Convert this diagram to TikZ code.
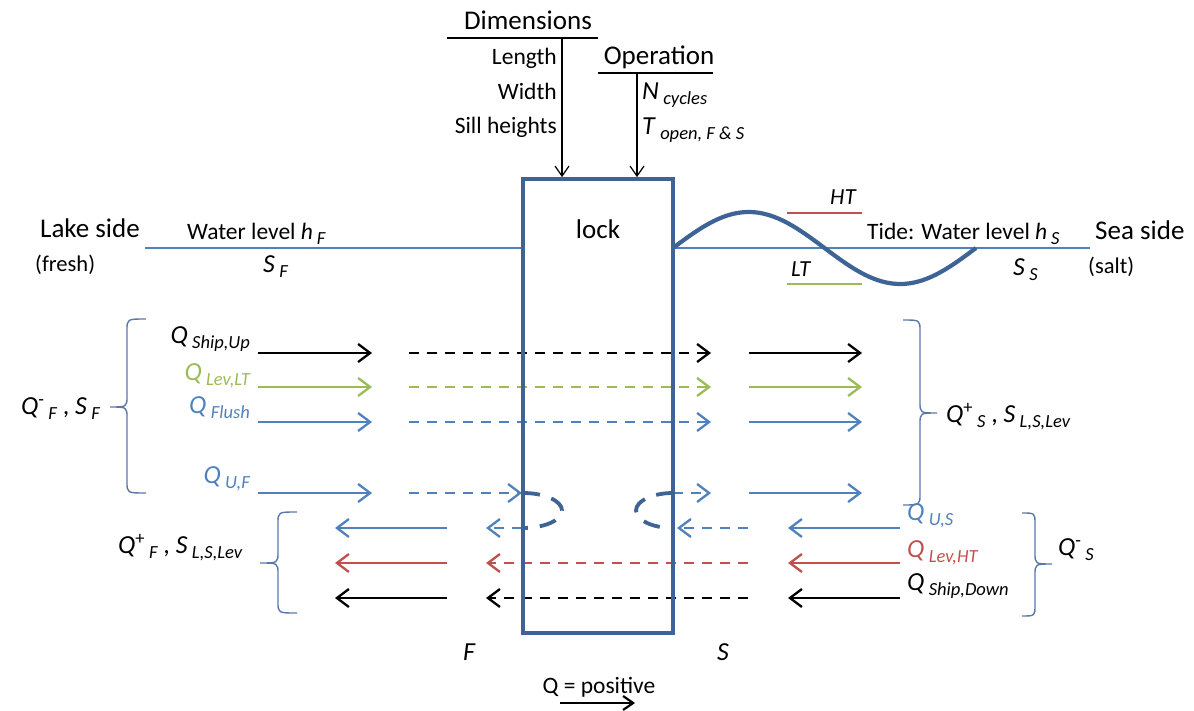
\documentclass[tikz,border=0pt]{standalone}
\usepackage{fontspec}
\setmainfont{Carlito}
\usetikzlibrary{arrows.meta}
\definecolor{cblue}{RGB}{79,129,189}
\definecolor{cgreen}{RGB}{155,187,89}
\definecolor{cred}{RGB}{192,80,77}
\definecolor{clock}{RGB}{62,100,150}
\definecolor{cbrace}{RGB}{90,120,170}
\newcommand{\fs}[1]{\fontsize{#1}{#1}\selectfont}
\newcommand{\qsub}[1]{{\fs{18.5}\raisebox{-5pt}{\itshape #1}}}
\newcommand{\qsup}[1]{{\fs{18.5}\raisebox{9pt}{#1}}}
\newcommand{\brc}[6]{\draw[bracestyle] (#2,#4) .. controls (#1,#4) .. (#1,{#4+11}) -- (#1,{#5-11}) .. controls (#1,#5) .. (#3,#5) .. controls (#1,#5) .. (#1,{#5+11}) -- (#1,{#6-11}) .. controls (#1,#6) .. (#2,#6);}
\begin{document}
\begin{tikzpicture}[x=1pt,y=-1pt,
  big/.style={font=\fs{27},inner sep=0pt},
  med/.style={font=\fs{23.5},inner sep=0pt},
  lab/.style={font=\fs{26},inner sep=0pt},
  flow/.style={line width=2.5pt,-{Straight Barb[length=12pt,width=18pt,line width=2.3pt]}},
  dsh/.style={dash pattern=on 10pt off 8pt},
  thinarrow/.style={line width=1.2pt,-{Straight Barb[length=10pt,width=14pt,line width=1.2pt]}},
  bracestyle/.style={draw=cbrace,line width=1.4pt},
  loopstyle/.style={draw=clock,line width=3.8pt,dash pattern=on 17pt off 12pt},
  water/.style={draw=cblue,line width=1.6pt}
]
\useasboundingbox (0,0) rectangle (1194,711);

% ---------- top: dimensions / operation
\node[big,anchor=base] (dim) at (528,30) {Dimensions};
\coordinate (dimL) at (447,38);
\coordinate (dimR) at (598,38);
\coordinate (dimA) at (562,38);
\draw[line width=2.2pt] (dimL) -- (dimR);
\node[med,anchor=base east] (len) at (557,65) {Length};
\node[med,anchor=base east] (wid) at (557,100) {Width};
\node[med,anchor=base east] (sill) at (557,134) {Sill heights};
\node[big,anchor=base] (op) at (659,65) {Operation};
\coordinate (opL) at (598,73);
\coordinate (opR) at (713,73);
\coordinate (opA) at (637,73);
\draw[line width=2.2pt] (opL) -- (opR);
\node[lab,anchor=base west] (ncyc) at (642,100) {\textit{N}\,\qsub{cycles}};
\node[lab,anchor=base west] (topen) at (642,135) {\textit{T}\,\qsub{open, F \& S}};

% ---------- water lines
\coordinate (wl1) at (145,248);
\coordinate (wl2) at (523,248);
\coordinate (wr1) at (673,248);
\coordinate (wr2) at (1090,248);
\draw[water] (wl1) -- (wl2);
\draw[water] (wr1) -- (wr2);

% tide wave
\draw[draw=clock,line width=4.2pt] plot[domain=0:303,samples=90] ({673+\x},{248-36*sin(\x*1.18812)});
\coordinate (ht1) at (787,213); \coordinate (ht2) at (862,213);
\coordinate (lt1) at (787,284); \coordinate (lt2) at (862,284);
\draw[cred,line width=2.4pt] (ht1) -- (ht2);
\draw[cgreen,line width=2.4pt] (lt1) -- (lt2);
\node[lab,anchor=base west,font=\fs{23}] (HT) at (830,205) {\textit{HT}};
\node[lab,anchor=base west,font=\fs{23}] (LT) at (791,277) {\textit{LT}};

\node[big,anchor=base west] (lake) at (40,238) {Lake side};
\node[med,anchor=base west,font=\fs{22.5}] (fresh) at (35,272) {(fresh)};
\node[med,anchor=base west] (wlF) at (187,240) {Water level \textit{h}\,\qsub{F}};
\node[lab,anchor=base west] (SF) at (263,273) {\textit{S}\,\qsub{F}};
\node[med,anchor=base west] (tide) at (867,240) {Tide: Water level \textit{h}\,\qsub{S}};
\node[big,anchor=base west] (sea) at (1095,240) {Sea side};
\node[med,anchor=base west,font=\fs{22.5}] (salt) at (1088,274) {(salt)};
\node[lab,anchor=base west] (SS) at (1013,276) {\textit{S}\,\qsub{S}};

% ---------- flow coordinates
\foreach \r/\y in {1/353,2/387,3/422,4/493,5/528,6/563,7/598} {
  \foreach \c/\x in {A/258,B/372,C/409,D/711,E/749,F/862,G/335,H/447,I/486,J/522,K/677,L/748,M/788,N/900,P/673} {
    \coordinate (\c\r) at (\x,\y);
  }
}
% rightward flows
\draw[flow,black] (A1) -- (B1);
\draw[flow,black,dsh] (C1) -- (D1);
\draw[flow,black] (E1) -- (F1);
\draw[flow,cgreen] (A2) -- (B2);
\draw[flow,cgreen,dsh] (C2) -- (D2);
\draw[flow,cgreen] (E2) -- (F2);
\draw[flow,cblue] (A3) -- (B3);
\draw[flow,cblue,dsh] (C3) -- (D3);
\draw[flow,cblue] (E3) -- (F3);
\draw[flow,cblue] (A4) -- (B4);
\draw[flow,cblue,dsh] (C4) -- (J4);
\draw[flow,cblue,dsh] (P4) -- (D4);
\draw[flow,cblue] (E4) -- (F4);
% leftward flows
\draw[flow,cblue] (N5) -- (M5);
\draw[flow,cblue,dsh] (L5) -- (K5);
\draw[flow,cblue,dsh] (J5) -- (I5);
\draw[flow,cblue] (H5) -- (G5);
\draw[flow,cred] (N6) -- (M6);
\draw[flow,cred,dsh] (L6) -- (I6);
\draw[flow,cred] (H6) -- (G6);
\draw[flow,black] (N7) -- (M7);
\draw[flow,black,dsh] (L7) -- (I7);
\draw[flow,black] (H7) -- (G7);

% loops
\draw[loopstyle] (523,493) arc[start angle=-90,end angle=90,x radius=39,y radius=17.5];
\draw[loopstyle] (673,493) arc[start angle=-90,end angle=-270,x radius=37,y radius=17.5];

% lock
\node[draw=clock,line width=3.8pt,minimum width=150pt,minimum height=454pt,inner sep=0pt] (lock) at (598,406) {};
\node[big,anchor=base] (locklabel) at (598,239) {lock};
\draw[thinarrow] (dimA) -- (dimA |- lock.north);
\draw[thinarrow] (opA) -- (opA |- lock.north);

% flow labels
\node[lab,anchor=base east] (qship) at (250,344) {\textit{Q}\,\qsub{Ship,Up}};
\node[lab,anchor=base east,text=cgreen] (qlevlt) at (250,380) {\textit{Q}\,\qsub{Lev,LT}};
\node[lab,anchor=base east,text=cblue] (qflush) at (250,413) {\textit{Q}\,\qsub{Flush}};
\node[lab,anchor=base east,text=cblue] (quf) at (250,483) {\textit{Q}\,\qsub{U,F}};
\node[lab,anchor=base west,text=cblue] (qus) at (907,520) {\textit{Q}\,\qsub{U,S}};
\node[lab,anchor=base west,text=cred] (qlevht) at (907,557) {\textit{Q}\,\qsub{Lev,HT}};
\node[lab,anchor=base west] (qshipd) at (907,590) {\textit{Q}\,\qsub{Ship,Down}};

% braces
\brc{127}{146}{110}{319}{407}{493}
\brc{920}{903}{937}{320}{413}{505}
\brc{278}{297}{260}{512}{563}{613}
\brc{1035}{1022}{1052}{513}{564}{616}
\node[lab,anchor=base east] (qmf) at (100,414) {\textit{Q}\qsup{-}\,\qsub{F} , \textit{S}\,\qsub{F}};
\node[lab,anchor=base west] (qps) at (946,422) {\textit{Q}\qsup{+}\,\qsub{S} , \textit{S}\,\qsub{L,S,Lev}};
\node[lab,anchor=base west] (qpf) at (118,553) {\textit{Q}\qsup{+}\,\qsub{F} , \textit{S}\,\qsub{L,S,Lev}};
\node[lab,anchor=base west] (qms) at (1058,555) {\textit{Q}\qsup{-}\,\qsub{S}};

% bottom
\node[lab,anchor=base west] (Flab) at (463,660) {\textit{F}};
\node[lab,anchor=base west] (Slab) at (717,660) {\textit{S}};
\node[med,anchor=base] (qpos) at (599,693) {Q = positive};
\coordinate (qa1) at (560,703);
\coordinate (qa2) at (635,703);
\draw[line width=2.2pt,-{Straight Barb[length=10pt,width=14pt,line width=2.2pt]}] (qa1) -- (qa2);
\end{tikzpicture}
\end{document}
